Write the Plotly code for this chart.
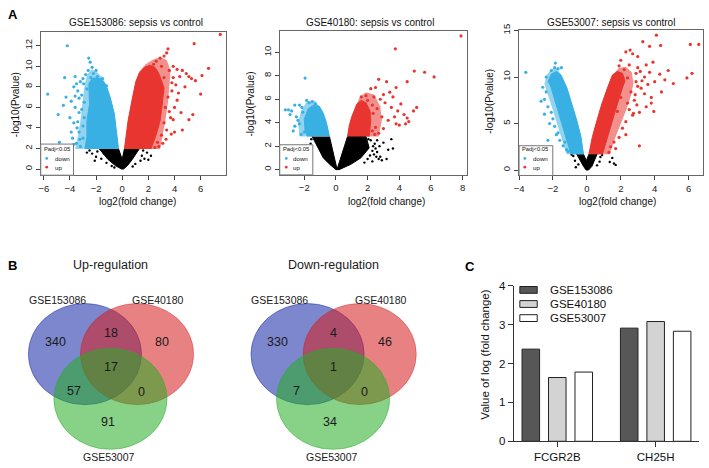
import plotly.graph_objects as go

W, H = 709, 468
FONT = "Liberation Sans, Arial, sans-serif"
BLUE = "#38B0E3"
RED = "#E8352F"

# ---------------- Panel A data (volcano plots) ----------------
# GSE153086: dense cores (outline of solid point clouds), sparser halos and scattered points
p1_ns_x = [-1.75, -1.1, -0.5, -0.05, 0.1, 0.39, 0.78, 1.3, 0.17, 0.0, -0.28]
p1_ns_y = [1.96, 0.95, 0.31, 0.0, 0.0, 0.31, 0.95, 1.96, 1.96, 0.95, 1.96]
p1_ns_pts_x = [-2.3, -2.0, -1.9, -1.6, -1.4, -2.5, -1.2, 1.5, 1.7, 1.9, 2.2, 1.4, 1.0, -0.8, 2.0, 1.6, -2.1, 0.8, -0.6, -2.7]
p1_ns_pts_y = [1.5, 1.2, 1.7, 1.0, 1.5, 1.8, 0.6, 1.3, 1.0, 1.6, 1.3, 0.8, 0.5, 0.3, 0.9, 1.8, 0.8, 0.25, 0.15, 1.6]
p1_down_core_x = [-0.28, -0.4, -0.6, -0.9, -1.24, -1.5, -1.9, -2.3, -2.55, -2.5, -2.7, -2.7, -2.85]
p1_down_core_y = [1.96, 3.15, 5.36, 6.9, 8.2, 8.6, 8.9, 8.8, 8.3, 6.3, 4.7, 3.15, 1.96]
p1_down_halo_x = [-0.28, -0.4, -0.6, -0.9, -1.24, -1.5, -1.9, -2.3, -2.7, -2.9, -3.05, -3.2, -3.4, -3.6]
p1_down_halo_y = [1.96, 3.15, 5.36, 6.9, 8.2, 8.9, 9.4, 9.7, 9.2, 8.0, 6.3, 4.7, 3.15, 1.96]
p1_down_x = [-2.56, -2.45, -2.3, -2.6, -2.2, -1.9, -2.8, -3.0, -3.2, -3.5, -3.7, -4.4, -4.2, -5.7, -4.9, -4.8,
             -4.0, -3.9, -3.6, -3.3, -3.1, -2.9, -3.0, -3.3, -3.5, -3.8, -3.2, -3.9, -3.0, -2.9, -2.7, -2.4,
             -1.7, -1.5, -4.3, -3.7, -4.5, -3.4, -2.0, -1.2, -3.6, -2.1, -1.8, -3.4, -3.7, -3.9, -3.3, -3.6,
             -3.1, -3.45, -2.95, -3.25]
p1_down_y = [10.8, 10.4, 9.9, 9.6, 9.3, 9.0, 9.2, 8.8, 8.5, 8.3, 8.0, 8.9, 12.0, 7.3, 5.3, 2.6,
             5.0, 6.6, 6.0, 5.5, 7.2, 6.5, 4.2, 3.6, 2.5, 3.0, 2.2, 2.0, 3.0, 5.0, 7.8, 8.9,
             8.7, 8.8, 7.0, 4.5, 6.2, 7.6, 9.6, 8.1, 9.0, 2.3, 2.1, 4.6, 2.4, 3.6, 6.9, 7.1,
             5.8, 4.0, 8.3, 2.9]
p1_up_core_x = [0.17, 0.28, 0.45, 0.78, 1.04, 1.3, 1.7, 2.1, 2.5, 2.8, 3.2, 3.06, 2.9, 2.55, 2.2]
p1_up_core_y = [1.96, 3.15, 4.7, 6.9, 8.5, 9.3, 9.9, 10.1, 9.9, 9.3, 7.9, 6.3, 4.7, 3.15, 1.96]
p1_up_halo_x = [0.17, 0.28, 0.45, 0.78, 1.04, 1.3, 1.8, 2.3, 2.9, 3.4, 3.7, 3.6, 3.5, 3.3, 3.1, 2.9]
p1_up_halo_y = [1.96, 3.15, 4.7, 6.9, 8.5, 9.5, 10.2, 10.6, 10.9, 10.6, 9.6, 8.0, 6.5, 4.7, 3.2, 1.96]
p1_up_x = [3.5, 3.4, 3.2, 2.9, 2.6, 2.4, 3.0, 3.6, 3.9, 4.2, 4.6, 4.9, 5.1, 5.5, 7.5, 6.6, 6.1, 6.0, 5.4,
           5.1, 4.6, 4.0, 4.0, 4.3, 3.8, 3.5, 3.3, 3.2, 3.0, 3.1, 2.8, 3.4, 4.5, 3.7, 3.2, 2.2, 1.8, 1.4,
           4.8, 5.6, 3.9, 5.3, 2.7, 2.5, 3.9, 4.1, 3.8, 4.2, 3.6, 4.4, 3.35, 3.75]
p1_up_y = [11.7, 11.3, 11.0, 10.8, 10.5, 10.2, 10.0, 9.6, 10.0, 9.7, 9.6, 9.3, 9.0, 12.2, 13.1, 9.8, 9.1, 7.3, 5.3,
           4.8, 3.8, 3.6, 6.0, 7.4, 8.4, 7.0, 6.0, 4.5, 3.3, 2.5, 2.2, 3.8, 5.5, 5.0, 8.9, 9.8, 9.6, 9.2,
           8.0, 8.6, 4.8, 8.8, 2.6, 2.1, 8.9, 8.2, 7.6, 6.7, 5.6, 9.0, 2.9, 3.4]

# GSE40180
p2_ns_x = [-1.5, -1.2, -0.8, -0.35, 0.0, 0.2, 0.94, 1.57, 2.1, 1.9, 0.73, 0.1, 0.05, -0.41]
p2_ns_y = [2.82, 2.0, 1.0, 0.4, 0.0, 0.0, 0.45, 1.0, 1.85, 2.82, 2.82, 0.15, 0.15, 2.82]
p2_ns_pts_x = [2.6, 3.0, 3.3, 3.6, 2.8, 3.2, 2.7, 2.9, 2.4, 2.2, 2.5, 2.3, -1.55, -1.6, 2.0, 1.8, 2.35, 3.5, 1.7, 2.6,
               2.45, 2.15, 2.55, 2.75, 2.3, 2.05]
p2_ns_pts_y = [2.5, 2.3, 1.7, 1.8, 1.1, 0.9, 0.9, 0.8, 1.3, 2.5, 1.8, 0.7, 2.6, 2.2, 0.9, 0.6, 2.0, 2.6, 1.5, 1.5,
               2.2, 1.2, 1.1, 2.0, 1.6, 2.6]
p2_down_core_x = [-0.41, -0.6, -0.8, -1.05, -1.4, -1.75, -2.0, -1.95, -1.8]
p2_down_core_y = [2.82, 4.0, 4.8, 5.4, 5.5, 5.2, 4.3, 3.3, 2.82]
p2_down_halo_x = [-0.41, -0.6, -0.8, -1.05, -1.35, -1.85, -2.2, -2.4, -2.3]
p2_down_halo_y = [2.82, 4.0, 4.8, 5.4, 5.9, 5.8, 5.0, 4.0, 2.82]
p2_down_x = [-1.95, -3.2, -3.0, -2.8, -2.6, -2.3, -2.9, -2.5, -2.7, -2.3, -2.4, -2.1, -2.0, -2.2, -1.7, -1.5,
             -1.3, -2.6, -1.85, -2.15]
p2_down_y = [7.8, 5.1, 5.1, 5.0, 5.5, 5.5, 4.7, 4.5, 3.3, 3.9, 4.2, 4.9, 3.2, 3.0, 5.7, 5.8,
             5.6, 3.7, 5.9, 5.3]
p2_up_core_x = [0.73, 0.85, 1.0, 1.32, 1.6, 1.9, 2.15, 2.2, 2.1]
p2_up_core_y = [2.82, 3.8, 4.5, 5.6, 5.9, 5.7, 5.0, 4.2, 2.82]
p2_up_halo_x = [0.73, 0.85, 1.0, 1.32, 1.5, 1.9, 2.4, 2.8, 2.9, 2.7]
p2_up_halo_y = [2.82, 3.8, 4.5, 5.6, 6.2, 6.6, 6.4, 5.4, 4.2, 2.82]
p2_up_x = [7.9, 3.75, 4.95, 5.6, 6.2, 4.5, 3.8, 3.2, 2.7, 2.5, 2.2, 3.4, 3.6, 3.0, 4.1, 3.9, 4.3, 4.9, 5.1,
           4.6, 4.4, 4.0, 3.8, 4.5, 3.3, 2.9, 2.6, 3.1, 2.4, 2.8, 3.5, 2.5, 2.3, 2.7, 3.0, 1.9, 1.6, 2.0, 3.7,
           2.35, 2.45, 2.3]
p2_up_y = [11.4, 10.3, 8.4, 8.3, 7.9, 7.5, 7.0, 7.5, 7.7, 7.0, 6.9, 6.6, 6.2, 6.4, 5.6, 5.0, 4.7, 5.0, 5.3,
           4.1, 3.9, 3.8, 3.9, 4.4, 4.2, 4.5, 5.2, 5.7, 6.2, 6.0, 5.3, 3.6, 3.3, 3.1, 3.5, 6.3, 6.2, 5.9, 4.5,
           4.8, 3.0, 5.5]

# GSE53007
p3_ns_x = [-0.6, -0.4, -0.2, -0.05, 0.1, 0.3, 0.45, 0.6, 0.12, -0.03, -0.2]
p3_ns_y = [1.7, 1.0, 0.4, 0.0, 0.0, 0.4, 1.0, 1.7, 1.7, 1.0, 1.7]
p3_ns_pts_x = [-0.8, -0.7, 0.8, 0.75, 1.35, 1.6, 1.7, 0.6, -0.5, 1.5, -0.9, 0.9, -0.65]
p3_ns_pts_y = [1.5, 1.0, 1.4, 0.9, 0.86, 0.7, 0.55, 0.5, 0.6, 1.3, 1.65, 1.6, 0.3]
p3_down_core_x = [-0.2, -0.35, -0.59, -0.88, -1.17, -1.52, -1.8, -2.1, -2.27, -2.1, -1.82, -1.52, -1.23, -0.94]
p3_down_core_y = [1.7, 3.6, 5.3, 7.1, 8.8, 10.2, 10.6, 10.3, 9.6, 8.8, 7.1, 5.3, 3.6, 1.7]
p3_down_halo_x = [-0.2, -0.35, -0.59, -0.88, -1.17, -1.52, -1.75, -2.05, -2.35, -2.5, -2.35, -2.1, -1.8, -1.5, -1.2]
p3_down_halo_y = [1.7, 3.6, 5.3, 7.1, 8.8, 10.2, 10.95, 10.9, 10.3, 9.3, 8.3, 7.0, 5.3, 3.6, 1.7]
p3_down_x = [-1.86, -3.6, -2.3, -2.6, -2.7, -2.5, -2.4, -2.3, -2.1, -2.0, -1.9, -1.7, -1.6, -1.4, -1.2,
             -2.2, -2.0, -1.7, -1.5, -2.4, -2.1, -1.9, -1.1, -1.8, -2.2, -2.5, -1.3]
p3_down_y = [11.5, 10.5, 3.2, 8.9, 7.4, 7.6, 8.4, 6.8, 6.2, 5.5, 4.7, 4.0, 3.2, 2.6, 2.2,
             9.5, 10.2, 10.9, 11.0, 10.0, 10.7, 11.0, 2.0, 3.8, 5.0, 6.0, 3.0]
p3_up_core_x = [0.12, 0.33, 0.59, 0.88, 1.21, 1.5, 1.8, 2.1, 2.25, 2.09, 1.8, 1.5, 1.21, 0.92]
p3_up_core_y = [1.7, 3.6, 5.3, 7.1, 8.8, 10.2, 10.6, 10.4, 9.6, 8.8, 7.1, 5.3, 3.6, 1.7]
p3_up_halo_x = [0.12, 0.33, 0.59, 0.88, 1.21, 1.5, 1.9, 2.3, 2.65, 2.75, 2.6, 2.35, 2.05, 1.7, 1.35]
p3_up_halo_y = [1.7, 3.6, 5.3, 7.1, 8.8, 10.2, 11.0, 11.1, 10.5, 9.3, 8.0, 6.6, 5.2, 3.6, 1.7]
p3_up_x = [4.1, 3.3, 4.35, 3.7, 2.3, 2.7, 2.55, 6.1, 6.6, 5.9, 6.2, 4.8, 4.4, 3.8, 3.8, 3.95, 3.1, 3.1,
           1.7, 1.4, 3.5, 3.0, 3.9, 4.3, 3.4, 2.9, 3.6, 3.2, 3.4, 2.9, 2.5, 2.0, 1.9, 2.8, 3.5, 2.6, 2.5,
           2.3, 2.7, 2.1, 1.9, 2.3, 1.6, 2.2, 4.0, 3.7, 4.6, 5.1, 3.0, 2.4, 2.0, 2.4, 1.8, 1.3, 3.0, 2.85,
           3.25, 2.95, 3.15, 2.75]
p3_up_y = [14.5, 13.8, 13.4, 13.3, 12.7, 12.5, 12.9, 13.5, 13.5, 9.9, 10.4, 10.7, 8.4, 7.8, 7.2, 6.3, 6.2, 2.6,
           2.3, 2.5, 11.3, 11.0, 11.6, 10.3, 10.0, 10.4, 9.2, 8.8, 8.2, 9.5, 11.3, 11.8, 11.2, 7.5, 6.8, 8.4, 6.5,
           5.2, 5.9, 4.5, 3.5, 3.8, 3.0, 10.8, 9.5, 10.5, 9.7, 9.3, 12.2, 9.9, 7.8, 7.2, 6.3, 1.9, 9.0, 8.1,
           9.6, 7.0, 10.6, 6.1]

volcano_titles = ["GSE153086: sepsis vs control", "GSE40180: sepsis vs control", "GSE53007: sepsis vs control"]

# ---------------- Panel B data (Venn counts) ----------------
venn_sets = ["GSE153086", "GSE40180", "GSE53007"]
# order: A only, A&B, B only, A&B&C, A&C, B&C, C only
venn_up_counts = [340, 18, 80, 17, 57, 0, 91]
venn_down_counts = [330, 4, 46, 1, 7, 0, 34]
venn_titles = ["Up-regulation", "Down-regulation"]

# ---------------- Panel C data (bars) ----------------
genes = ["FCGR2B", "CH25H"]
gse153086_fc = [2.37, 2.91]
gse40180_fc = [1.64, 3.08]
gse53007_fc = [1.78, 2.83]
bar_series = ["GSE153086", "GSE40180", "GSE53007"]
bar_colors = ["#575757", "#d3d3d3", "#ffffff"]


def fx(p):
    return p / W


def fy(p):
    return 1 - p / H


fig = go.Figure()
annotations = []
shapes = []


def ann(text, x, y, size, color="#111", **kw):
    d = dict(text=text, x=fx(x), y=fy(y), xref="paper", yref="paper", showarrow=False,
             font=dict(size=size, color=color, family=FONT), xanchor="center", yanchor="middle")
    d.update(kw)
    annotations.append(d)


panels = [
    dict(ns=(p1_ns_x, p1_ns_y), nsp=(p1_ns_pts_x, p1_ns_pts_y), dc=(p1_down_core_x, p1_down_core_y),
         dh=(p1_down_halo_x, p1_down_halo_y), dp=(p1_down_x, p1_down_y),
         uc=(p1_up_core_x, p1_up_core_y), uh=(p1_up_halo_x, p1_up_halo_y), up=(p1_up_x, p1_up_y),
         dom=(36, 223, 26, 173), xr=[-6.23, 7.97], yr=[-0.6, 13.31], xt=[-6, -4, -2, 0, 2, 4, 6],
         yt=[0, 2, 4, 6, 8, 10, 12], title_x=132, xt_x=133, yt_x=10, yt_y=100,
         leg=(36, 69, 141, 173), leg_dot=42, leg_txt=48),
    dict(ns=(p2_ns_x, p2_ns_y), nsp=(p2_ns_pts_x, p2_ns_pts_y), dc=(p2_down_core_x, p2_down_core_y),
         dh=(p2_down_halo_x, p2_down_halo_y), dp=(p2_down_x, p2_down_y),
         uc=(p2_up_core_x, p2_up_core_y), uh=(p2_up_halo_x, p2_up_halo_y), up=(p2_up_x, p2_up_y),
         dom=(276.7, 465, 25, 172.7), xr=[-3.55, 8.26], yr=[-0.45, 11.79], xt=[-2, 0, 2, 4, 6, 8],
         yt=[0, 2, 4, 6, 8, 10], title_x=368, xt_x=384, yt_x=247, yt_y=100,
         leg=(276.7, 310, 141.7, 172.7), leg_dot=283.3, leg_txt=288.5),
    dict(ns=(p3_ns_x, p3_ns_y), nsp=(p3_ns_pts_x, p3_ns_pts_y), dc=(p3_down_core_x, p3_down_core_y),
         dh=(p3_down_halo_x, p3_down_halo_y), dp=(p3_down_x, p3_down_y),
         uc=(p3_up_core_x, p3_up_core_y), uh=(p3_up_halo_x, p3_up_halo_y), up=(p3_up_x, p3_up_y),
         dom=(517.7, 703.3, 24, 173.3), xr=[-4.0, 6.87], yr=[-0.59, 15.02], xt=[-4, -2, 0, 2, 4, 6],
         yt=[0, 5, 10, 15], title_x=610, xt_x=617, yt_x=488, yt_y=97,
         leg=(517.7, 551.7, 142.7, 173.3), leg_dot=523.5, leg_txt=529.5),
]

layout_axes = {}
for i, p in enumerate(panels, start=1):
    xa = "x" if i == 1 else f"x{i}"
    ya = "y" if i == 1 else f"y{i}"
    layers = [(p["dh"], BLUE, "halo"), (p["uh"], RED, "halo"),
              (p["ns"], "black", "core"), (p["nsp"], "black", "pts"),
              (p["dc"], BLUE, "core"), (p["dp"], BLUE, "pts"),
              (p["uc"], RED, "core"), (p["up"], RED, "pts")]
    for (px_, py_), col, kind in layers:
        if kind in ("core", "halo"):
            fig.add_trace(go.Scatter(x=px_, y=py_, xaxis=xa, yaxis=ya, mode="lines", fill="toself",
                                     fillcolor=col, line=dict(color=col, width=0 if kind == "halo" else 1.0),
                                     opacity=0.55 if kind == "halo" else 1.0, showlegend=False,
                                     hoverinfo="skip"))
        else:
            fig.add_trace(go.Scatter(x=px_, y=py_, xaxis=xa, yaxis=ya, mode="markers",
                                     marker=dict(color=col, size=2.4 if col == "black" else 3.2),
                                     showlegend=False, hoverinfo="skip"))
    x0, x1, y0, y1 = p["dom"]
    common = dict(showline=True, mirror=True, linecolor="#666", linewidth=1, ticks="outside", ticklen=4,
                  tickcolor="#444", showgrid=False, zeroline=False,
                  tickfont=dict(size=9.5, color="#222", family=FONT))
    layout_axes["xaxis" if i == 1 else f"xaxis{i}"] = dict(
        domain=[fx(x0), fx(x1)], range=p["xr"], tickvals=p["xt"], anchor=ya, **common)
    layout_axes["yaxis" if i == 1 else f"yaxis{i}"] = dict(
        domain=[fy(y1), fy(y0)], range=p["yr"], tickvals=p["yt"], anchor=xa, tickangle=-90, **common)
    ann(volcano_titles[i - 1], p["title_x"], 16, 10)
    ann("log2(fold change)", p["xt_x"], 200, 10)
    ann("-log10(Pvalue)", p["yt_x"], p["yt_y"], 10, textangle=-90)
    lx0, lx1, ly0, ly1 = p["leg"]
    shapes.append(dict(type="rect", xref="paper", yref="paper", x0=fx(lx0), x1=fx(lx1), y0=fy(ly1),
                       y1=fy(ly0), fillcolor="white", line=dict(color="#777", width=1), layer="above"))
    ann("Padj<0.05", lx0 + 1.0, 146, 5.8, xanchor="left")
    for cy, col, lab in [(155.8, BLUE, "down"), (164.7, RED, "up")]:
        shapes.append(dict(type="circle", xref="paper", yref="paper", x0=fx(p["leg_dot"] - 1.4),
                           x1=fx(p["leg_dot"] + 1.4), y0=fy(cy + 1.4), y1=fy(cy - 1.4),
                           fillcolor=col, line=dict(width=0), layer="above"))
        ann(lab, p["leg_txt"], cy, 6.2, xanchor="left")

# ---------------- Venn diagrams ----------------
venn_fill = ["rgba(19,37,164,0.55)", "rgba(213,28,28,0.55)", "rgba(37,173,37,0.55)"]
venn_line = ["rgba(19,37,164,0.6)", "rgba(213,28,28,0.5)", "rgba(37,173,37,0.6)"]
circle_centers = [(80.5, 357), (133, 357), (106.2, 403)]
RX, RY = 57, 52
region_pos = [(50.7, 345), (106.7, 335), (158.3, 344.3), (106.7, 370.7), (69.3, 395), (137.7, 395.7),
              (103.3, 427.3)]
set_label_pos = [(52.7, 301), (154, 301), (105, 462.5)]
for k, (counts, title) in enumerate([(venn_up_counts, venn_titles[0]), (venn_down_counts, venn_titles[1])]):
    dx = 224.2 * k
    for (cx, cy), fc, lc in zip(circle_centers, venn_fill, venn_line):
        shapes.append(dict(type="circle", xref="paper", yref="paper", x0=fx(cx + dx - RX), x1=fx(cx + dx + RX),
                           y0=fy(cy + RY), y1=fy(cy - RY), fillcolor=fc, line=dict(color=lc, width=0.8),
                           layer="above"))
    for (rx_, ry_), c in zip(region_pos, counts):
        ann(str(c), rx_ + dx, ry_, 12.5, color="#1a1a1a")
    for (sx, sy), name in zip(set_label_pos, venn_sets):
        ann(name, sx + dx, sy, 10.5, color="#1a1a1a")
    ann(title, 106.7 + dx, 265, 12.5, color="#1a1a1a")

# ---------------- Bar chart ----------------
for name, vals, col in zip(bar_series, [gse153086_fc, gse40180_fc, gse53007_fc], bar_colors):
    fig.add_trace(go.Bar(x=genes, y=vals, name=name, xaxis="x4", yaxis="y4", marker=dict(color=col,
                         line=dict(color="#222", width=1)), showlegend=False, hoverinfo="skip"))
layout_axes["xaxis4"] = dict(domain=[fx(512.3), fx(699)], range=[-0.443, 1.441], type="category",
                             anchor="y4", showline=True, linecolor="#333", linewidth=1, ticks="outside",
                             ticklen=5, tickcolor="#333", showgrid=False, zeroline=False,
                             tickfont=dict(size=11.5, color="#111", family=FONT))
layout_axes["yaxis4"] = dict(domain=[fy(446.7), fy(286.7)], range=[0, 4], tickvals=[0, 1, 2, 3, 4],
                             anchor="x4", showline=True, linecolor="#333", linewidth=1, ticks="outside",
                             ticklen=5, tickcolor="#333", showgrid=False, zeroline=False,
                             tickfont=dict(size=11.5, color="#111", family=FONT))
ann("Value of log (fold change)", 483, 358, 11.5, textangle=-90)
for (ry_, name, col) in zip([291, 305.5, 320], bar_series, bar_colors):
    shapes.append(dict(type="rect", xref="paper", yref="paper", x0=fx(518.5), x1=fx(536), y0=fy(ry_ + 3.5),
                       y1=fy(ry_ - 3.5), fillcolor=col, line=dict(color="#222", width=1), layer="above"))
    ann(name, 546.5, ry_, 11.5, xanchor="left")

# panel letters
ann("<b>A</b>", 8, 8, 13, color="#000")
ann("<b>B</b>", 8, 266, 13, color="#000")
ann("<b>C</b>", 468, 267, 13, color="#000")

fig.update_layout(width=W, height=H, margin=dict(l=0, r=0, t=0, b=0), paper_bgcolor="white",
                  plot_bgcolor="white", barmode="group", bargap=0.193, bargroupgap=0.337,
                  annotations=annotations, shapes=shapes, font=dict(family=FONT), **layout_axes)
fig.write_html("out.html")
